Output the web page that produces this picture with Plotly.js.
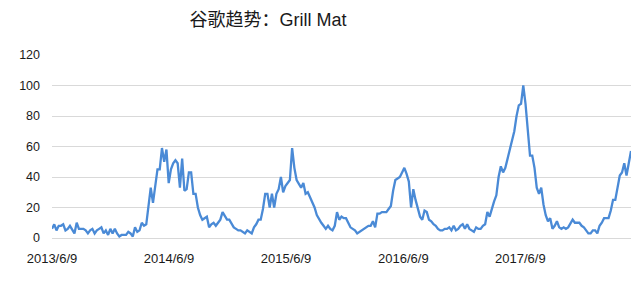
<!DOCTYPE html>
<html>
<head>
<meta charset="utf-8">
<script src="https://cdn.plot.ly/plotly-3.0.1.min.js"></script>
<style>
  html, body { margin: 0; padding: 0; background: #ffffff; }
  #chart { width: 640px; height: 284px; }
</style>
</head>
<body>
<div id="chart"></div>
<script>
// Weekly Google search interest for "Grill Mat", starting with the week of 2013-06-09
const startDate = '2013-06-09';

const interest = [
  6, 9, 5, 8, 8, 9, 5, 6, 8, 5,
  3, 10, 6, 6, 6, 5, 3, 5, 6, 3,
  5, 6, 7, 3, 5, 2, 6, 3, 6, 3,
  1, 2, 2, 2, 4, 3, 1, 7, 4, 5,
  10, 8, 9, 20, 33, 23, 33, 45, 45, 59,
  50, 58, 36, 45, 49, 51, 49, 33, 52, 31,
  32, 43, 43, 29, 29, 20, 15, 12, 13, 14,
  7, 9, 10, 8, 10, 12, 17, 14, 12, 12,
  9, 7, 6, 5, 5, 4, 3, 5, 4, 3,
  7, 9, 12, 12, 19, 29, 29, 20, 29, 20,
  29, 32, 40, 30, 34, 36, 38, 59, 46, 38,
  35, 33, 36, 29, 30, 27, 24, 20, 15, 12,
  10, 8, 6, 8, 6, 5, 8, 17, 12, 14,
  13, 13, 10, 7, 6, 5, 3, 4, 5, 6,
  7, 8, 8, 11, 7, 16, 16, 17, 17, 17,
  19, 21, 31, 38, 39, 40, 43, 46, 42, 37,
  20, 32, 25, 19, 14, 12, 18, 17, 12, 11,
  9, 8, 6, 5, 5, 6, 6, 7, 5, 8,
  5, 6, 8, 9, 6, 9, 6, 5, 4, 7,
  6, 6, 8, 9, 17, 14, 20, 24, 28, 40,
  47, 43, 46, 52, 58, 64, 70, 80, 87, 88,
  100, 88, 68, 54, 54, 46, 33, 29, 33, 22,
  15, 11, 13, 6, 8, 11, 7, 6, 7, 6,
  7, 10, 12, 10, 10, 10, 8, 7, 5, 3,
  3, 5, 5, 3, 8, 10, 13, 13, 13, 18,
  25, 25, 32, 41, 43, 49, 41, 50, 57
];

const tickDates  = ['2013-06-09', '2014-06-09', '2015-06-09', '2016-06-09', '2017-06-09'];
const tickLabels = ['2013/6/9', '2014/6/9', '2015/6/9', '2016/6/9', '2017/6/9'];

// one date per weekly sample
function weeklyDates(start, n) {
  const out = [];
  const t0 = Date.parse(start + 'T00:00:00Z');
  for (let i = 0; i < n; i++) {
    const d = new Date(t0 + i * 7 * 86400000);
    out.push(d.toISOString().slice(0, 10));
  }
  return out;
}

const weeks = weeklyDates(startDate, interest.length);

const trace = {
  type: 'scatter',
  mode: 'lines',
  x: weeks,
  y: interest,
  line: { color: '#4a8ad6', width: 2.3 },
  hoverinfo: 'x+y'
};

const fontStack = 'Liberation Sans, Arial, "Noto Sans CJK SC", sans-serif';

const layout = {
  width: 640,
  height: 284,
  margin: { l: 52, r: 9, t: 55, b: 46, pad: 0 },
  paper_bgcolor: '#ffffff',
  plot_bgcolor: '#ffffff',
  showlegend: false,
  font: { family: fontStack, color: '#222222' },
  title: {
    text: '谷歌趋势：Grill Mat',
    font: { family: fontStack, size: 18, color: '#1a1a1a' },
    xref: 'container',
    yref: 'container',
    x: 268 / 640,
    xanchor: 'center',
    y: 1 - 20 / 284,
    yanchor: 'middle'
  },
  xaxis: {
    type: 'date',
    range: [weeks[0], weeks[weeks.length - 1]],
    tickmode: 'array',
    tickvals: tickDates,
    ticktext: tickLabels,
    showgrid: false,
    zeroline: false,
    showline: false,
    ticks: '',
    ticklabelstandoff: 11,
    tickfont: { size: 13, color: '#1a1a1a' },
    fixedrange: true
  },
  yaxis: {
    range: [0, 120],
    tickmode: 'linear',
    tick0: 0,
    dtick: 20,
    showgrid: true,
    gridcolor: '#d9d9d9',
    gridwidth: 1,
    zeroline: true,
    zerolinecolor: '#d9d9d9',
    zerolinewidth: 1,
    showline: false,
    ticks: '',
    ticklabelstandoff: 11,
    tickfont: { size: 12.5, color: '#1a1a1a' },
    fixedrange: true
  }
};

Plotly.newPlot('chart', [trace], layout, { displayModeBar: false, staticPlot: true });
</script>
</body>
</html>
